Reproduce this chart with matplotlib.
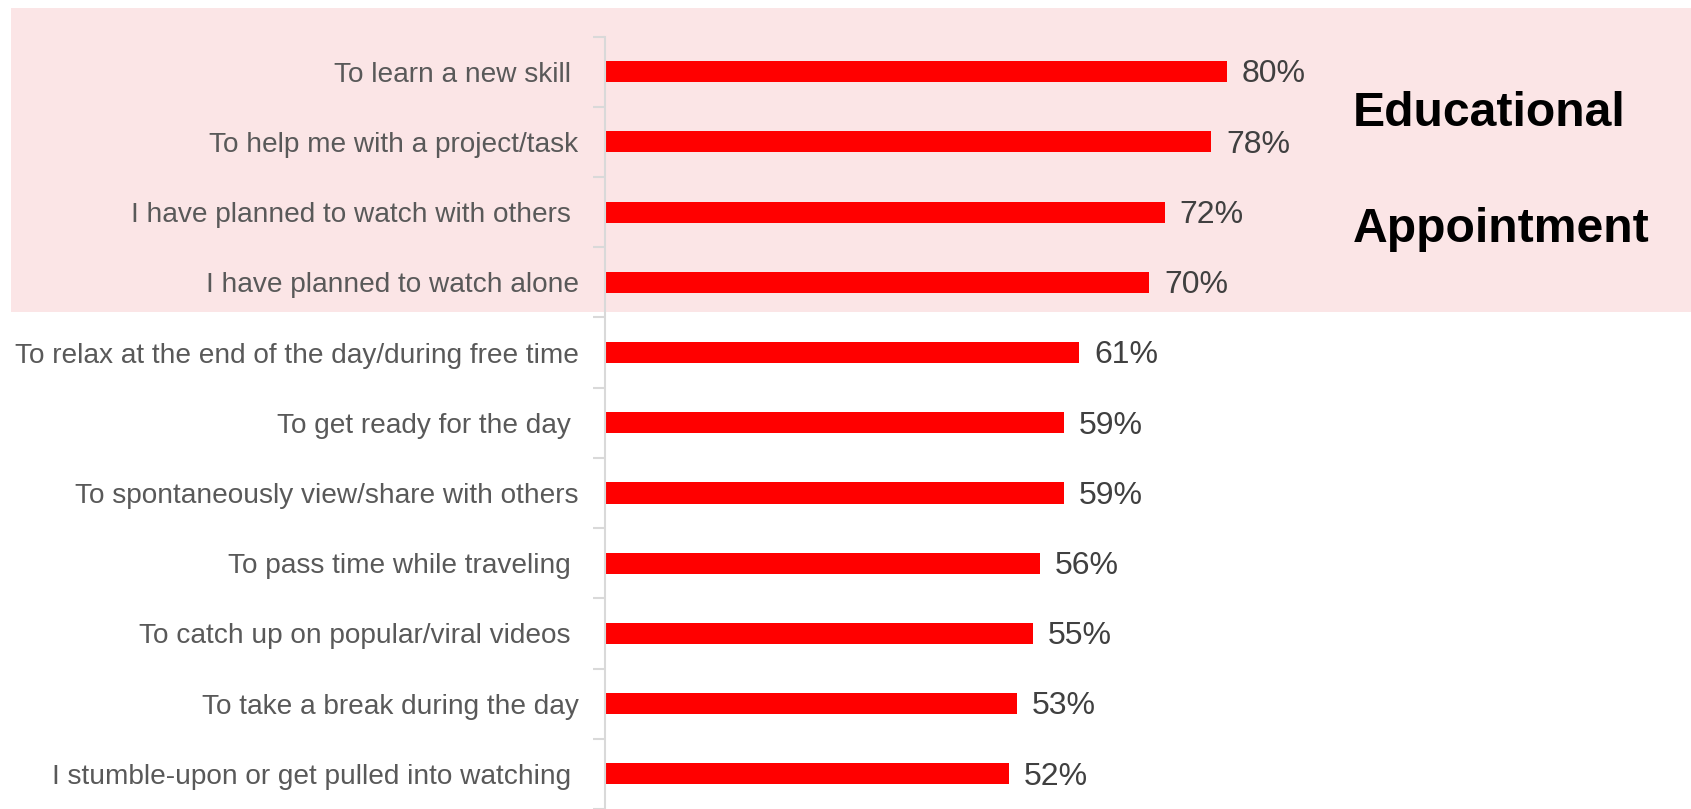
import matplotlib
matplotlib.use("Agg")
import matplotlib.pyplot as plt
from matplotlib.patches import Rectangle
import numpy as np

reasons = [
    "To learn a new skill ",
    "To help me with a project/task",
    "I have planned to watch with others ",
    "I have planned to watch alone",
    "To relax at the end of the day/during free time",
    "To get ready for the day ",
    "To spontaneously view/share with others",
    "To pass time while traveling ",
    "To catch up on popular/viral videos ",
    "To take a break during the day",
    "I stumble-upon or get pulled into watching ",
]
shares = [80, 78, 72, 70, 61, 59, 59, 56, 55, 53, 52]
group_labels = ["Educational", "Appointment"]

plt.rcParams["font.family"] = ["Liberation Sans", "DejaVu Sans"]

W, H = 1691, 809
fig = plt.figure(figsize=(W / 100, H / 100), dpi=100)
fig.patch.set_facecolor("white")

# shaded band behind the first four reasons
band = Rectangle((11 / W, (H - 312) / H), 1 - 11 / W, (312 - 7.5) / H,
                 transform=fig.transFigure, facecolor="#FBE5E6",
                 edgecolor="none", zorder=-1)
fig.patches.append(band)

left_px, right_px, top_px = 605, 1382.5, 36.5
ax = fig.add_axes([left_px / W, 0, (right_px - left_px) / W, (H - top_px) / H])
ax.set_zorder(1)
ax.patch.set_alpha(0)

y = np.arange(len(reasons))
ax.barh(y, shares, height=0.3, color="#FF0000", zorder=2)

for yi, v in zip(y, shares):
    ax.text(v + 1.9, yi + 0.04, f"{v}%", va="center", ha="left",
            fontsize=23, color="#404040")

ax.set_xlim(0, 100)
ax.set_ylim(10.42, -0.5)

ax.set_yticks(y)
ax.set_yticklabels(reasons, fontsize=20.2, color="#595959")
ax.tick_params(axis="y", which="major", length=0, pad=19)
ax.set_yticks(np.arange(-0.5, len(reasons) + 0.5, 1), minor=True)
ax.tick_params(axis="y", which="minor", length=9, width=1.5, color="#D9D9D9")
ax.set_xticks([])

for s in ["top", "right", "bottom"]:
    ax.spines[s].set_visible(False)
ax.spines["left"].set_color("#D9D9D9")
ax.spines["left"].set_linewidth(1.5)

fig.text(1353 / W, 1 - 113 / H, group_labels[0], fontsize=34.7, fontweight="bold",
         color="black", va="center", ha="left")
fig.text(1353 / W, 1 - 229 / H, group_labels[1], fontsize=34.7, fontweight="bold",
         color="black", va="center", ha="left")

fig.savefig("out.png", dpi=100)
